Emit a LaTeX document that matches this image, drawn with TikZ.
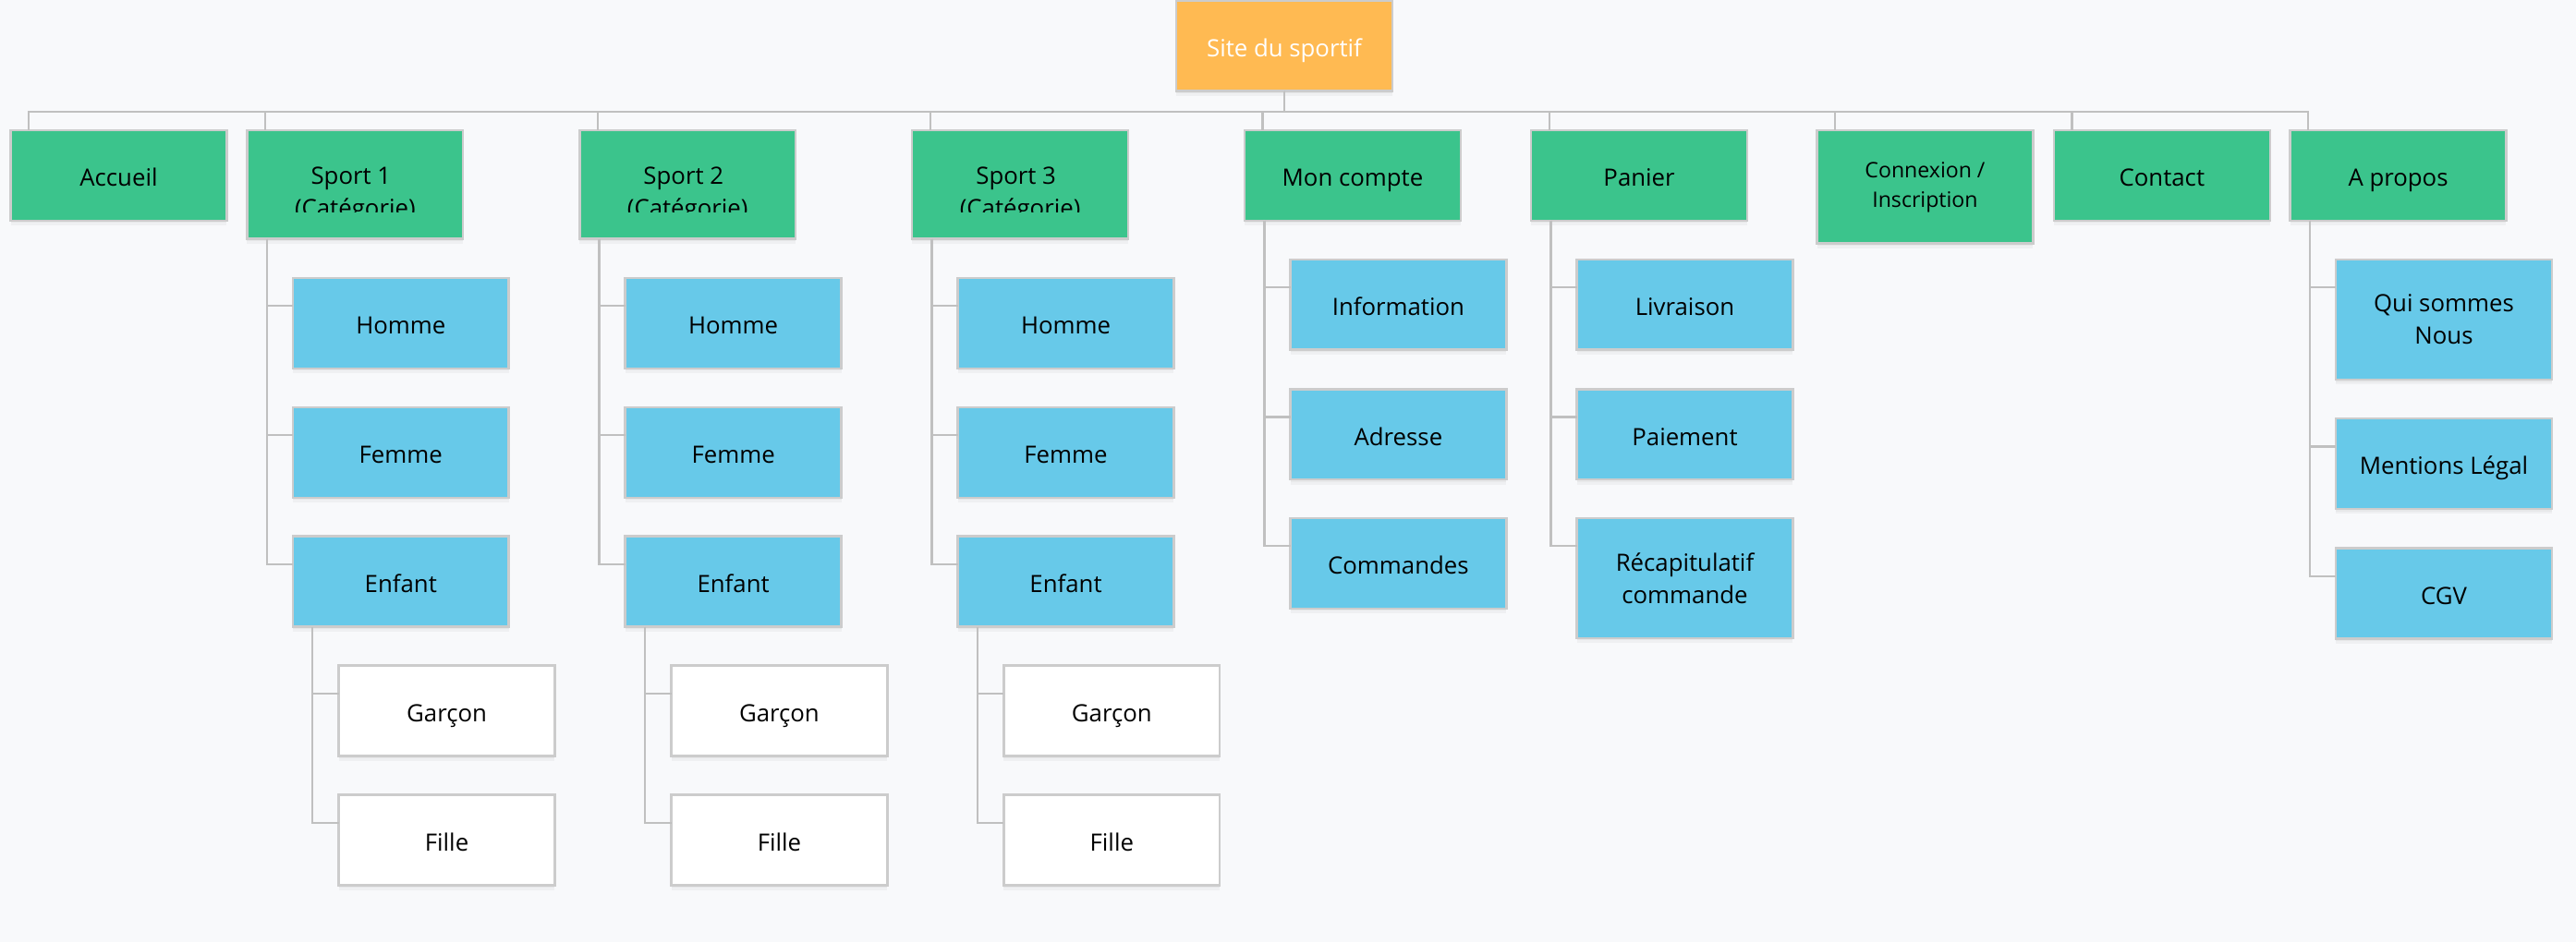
\documentclass[tikz,border=0pt]{standalone}
\usepackage{fontspec}
\setmainfont{Open Sans}
\usetikzlibrary{calc,shadows}

\definecolor{bgcol}{RGB}{248,249,251}
\definecolor{rootcol}{RGB}{255,186,82}
\definecolor{catcol}{RGB}{59,196,140}
\definecolor{subcol}{RGB}{103,201,233}
\definecolor{edgecol}{RGB}{204,204,204}
\definecolor{linkcol}{RGB}{192,192,192}

\begin{document}
\begin{tikzpicture}[x=1pt,y=1pt,yscale=-1,xscale=1,
    box/.style={rectangle, draw=edgecol, line width=1.4pt, outer sep=0pt, inner sep=2pt, anchor=north west,
        minimum width=131.5pt, minimum height=55pt, align=center, font=\fontsize{14.5}{19.7}\selectfont,
        text height=13.2pt, text depth=0pt,
        drop shadow={shadow xshift=0pt, shadow yshift=-3pt, opacity=0.07},
        drop shadow={shadow xshift=0pt, shadow yshift=-1.5pt, opacity=0.07}},
    twoline/.style={text height={}, text depth={}},
    rootbox/.style={box, fill=rootcol, text=white},
    catbox/.style={box, fill=catcol},
    subbox/.style={box, fill=subcol},
    leafbox/.style={box, fill=white},
    cattext/.style={anchor=base, inner sep=0pt, font=\fontsize{14.5}{19.7}\selectfont},
    link/.style={draw=linkcol, line width=1.3pt}]
        \useasboundingbox (0,0) rectangle (1568,573.7);
        \fill [bgcol] (0,0) rectangle (1568,573.7);
        \coordinate (bus) at (0,67.9);
        % Text Node
        \draw (716,0.7) node [rootbox, minimum height=54.8pt] (root) {Site du sportif};
        % Text Node
        \draw (6.5,79.3) node [catbox] (accueil) {Accueil};
        % Text Node
        \draw (150.4,79.3) node [catbox, minimum height=66.2pt] (sport1) {};
        % Text Node
        \draw (352.8,79.3) node [catbox, minimum height=66.2pt] (sport2) {};
        % Text Node
        \draw (555.2,79.3) node [catbox, minimum height=66.2pt] (sport3) {};
        % Text Node
        \draw (757.6,79.3) node [catbox] (compte) {Mon compte};
        % Text Node
        \draw (932,79.3) node [catbox] (panier) {Panier};
        % Text Node
        \draw (1106,79.3) node [catbox, twoline, minimum height=69pt, font=\fontsize{13}{18}\selectfont] (connexion) {Connexion /\\Inscription};
        % Text Node
        \draw (1250.2,79.3) node [catbox] (contact) {Contact};
        % Text Node
        \draw (1394,79.3) node [catbox] (apropos) {A propos};
        % Text Node
        \begin{scope}
            \clip (sport1.north west) rectangle ($(sport1.north east)+(0,49.7)$);
            \draw ($(sport1.north)+(-2.5,32.7)$) node [cattext] (sport1a) {Sport 1};
            \draw ($(sport1.north)+(0,52.7)$) node [cattext] (sport1b) {(Catégorie)};
        \end{scope}
        % Text Node
        \begin{scope}
            \clip (sport2.north west) rectangle ($(sport2.north east)+(0,49.7)$);
            \draw ($(sport2.north)+(-2.5,32.7)$) node [cattext] (sport2a) {Sport 2};
            \draw ($(sport2.north)+(0,52.7)$) node [cattext] (sport2b) {(Catégorie)};
        \end{scope}
        % Text Node
        \begin{scope}
            \clip (sport3.north west) rectangle ($(sport3.north east)+(0,49.7)$);
            \draw ($(sport3.north)+(-2.5,32.7)$) node [cattext] (sport3a) {Sport 3};
            \draw ($(sport3.north)+(0,52.7)$) node [cattext] (sport3b) {(Catégorie)};
        \end{scope}
        % Text Node
        \draw (178.2,169.3) node [subbox] (homme1) {Homme};
        % Text Node
        \draw (178.2,248) node [subbox] (femme1) {Femme};
        % Text Node
        \draw (178.2,326.6) node [subbox] (enfant1) {Enfant};
        % Text Node
        \draw (206.2,405.3) node [leafbox] (garcon1) {Garçon};
        % Text Node
        \draw (206.2,484) node [leafbox] (fille1) {Fille};
        % Text Node
        \draw (380.6,169.3) node [subbox] (homme2) {Homme};
        % Text Node
        \draw (380.6,248) node [subbox] (femme2) {Femme};
        % Text Node
        \draw (380.6,326.6) node [subbox] (enfant2) {Enfant};
        % Text Node
        \draw (408.6,405.3) node [leafbox] (garcon2) {Garçon};
        % Text Node
        \draw (408.6,484) node [leafbox] (fille2) {Fille};
        % Text Node
        \draw (583,169.3) node [subbox] (homme3) {Homme};
        % Text Node
        \draw (583,248) node [subbox] (femme3) {Femme};
        % Text Node
        \draw (583,326.6) node [subbox] (enfant3) {Enfant};
        % Text Node
        \draw (611,405.3) node [leafbox] (garcon3) {Garçon};
        % Text Node
        \draw (611,484) node [leafbox] (fille3) {Fille};
        % Text Node
        \draw (785.4,158) node [subbox] (info) {Information};
        % Text Node
        \draw (785.4,237) node [subbox] (adresse) {Adresse};
        % Text Node
        \draw (785.4,315.5) node [subbox] (commandes) {Commandes};
        % Text Node
        \draw (959.8,158) node [subbox] (livraison) {Livraison};
        % Text Node
        \draw (959.8,237) node [subbox] (paiement) {Paiement};
        % Text Node
        \draw (959.8,315.5) node [subbox, twoline, minimum height=73pt] (recap) {Récapitulatif\\commande};
        % Text Node
        \draw (1421.8,158) node [subbox, twoline, minimum height=73.2pt] (qui) {Qui sommes\\Nous};
        % Text Node
        \draw (1421.8,254.9) node [subbox] (mentions) {Mentions Légal};
        % Text Node
        \draw (1421.8,333.8) node [subbox] (cgv) {CGV};
        % Connection
        \draw [link] (root.south) -- (root.south |- bus) -| ([xshift=11]accueil.north west);
        % Connection
        \draw [link] (root.south) -- (root.south |- bus) -| ([xshift=11]sport1.north west);
        % Connection
        \draw [link] (root.south) -- (root.south |- bus) -| ([xshift=11]sport2.north west);
        % Connection
        \draw [link] (root.south) -- (root.south |- bus) -| ([xshift=11]sport3.north west);
        % Connection
        \draw [link] (root.south) -- (root.south |- bus) -| ([xshift=11]compte.north west);
        % Connection
        \draw [link] (root.south) -- (root.south |- bus) -| ([xshift=11]panier.north west);
        % Connection
        \draw [link] (root.south) -- (root.south |- bus) -| ([xshift=11]connexion.north west);
        % Connection
        \draw [link] (root.south) -- (root.south |- bus) -| ([xshift=11]contact.north west);
        % Connection
        \draw [link] (root.south) -- (root.south |- bus) -| ([xshift=11]apropos.north west);
        % Connection
        \draw [link] ([xshift=12]sport1.south west) |- ($(homme1.north west)+(0,17)$);
        % Connection
        \draw [link] ([xshift=12]sport1.south west) |- ($(femme1.north west)+(0,17)$);
        % Connection
        \draw [link] ([xshift=12]sport1.south west) |- ($(enfant1.north west)+(0,17)$);
        % Connection
        \draw [link] ([xshift=12]enfant1.south west) |- ($(garcon1.north west)+(0,17)$);
        % Connection
        \draw [link] ([xshift=12]enfant1.south west) |- ($(fille1.north west)+(0,17)$);
        % Connection
        \draw [link] ([xshift=12]sport2.south west) |- ($(homme2.north west)+(0,17)$);
        % Connection
        \draw [link] ([xshift=12]sport2.south west) |- ($(femme2.north west)+(0,17)$);
        % Connection
        \draw [link] ([xshift=12]sport2.south west) |- ($(enfant2.north west)+(0,17)$);
        % Connection
        \draw [link] ([xshift=12]enfant2.south west) |- ($(garcon2.north west)+(0,17)$);
        % Connection
        \draw [link] ([xshift=12]enfant2.south west) |- ($(fille2.north west)+(0,17)$);
        % Connection
        \draw [link] ([xshift=12]sport3.south west) |- ($(homme3.north west)+(0,17)$);
        % Connection
        \draw [link] ([xshift=12]sport3.south west) |- ($(femme3.north west)+(0,17)$);
        % Connection
        \draw [link] ([xshift=12]sport3.south west) |- ($(enfant3.north west)+(0,17)$);
        % Connection
        \draw [link] ([xshift=12]enfant3.south west) |- ($(garcon3.north west)+(0,17)$);
        % Connection
        \draw [link] ([xshift=12]enfant3.south west) |- ($(fille3.north west)+(0,17)$);
        % Connection
        \draw [link] ([xshift=12]compte.south west) |- ($(info.north west)+(0,17)$);
        % Connection
        \draw [link] ([xshift=12]compte.south west) |- ($(adresse.north west)+(0,17)$);
        % Connection
        \draw [link] ([xshift=12]compte.south west) |- ($(commandes.north west)+(0,17)$);
        % Connection
        \draw [link] ([xshift=12]panier.south west) |- ($(livraison.north west)+(0,17)$);
        % Connection
        \draw [link] ([xshift=12]panier.south west) |- ($(paiement.north west)+(0,17)$);
        % Connection
        \draw [link] ([xshift=12]panier.south west) |- ($(recap.north west)+(0,17)$);
        % Connection
        \draw [link] ([xshift=12]apropos.south west) |- ($(qui.north west)+(0,17)$);
        % Connection
        \draw [link] ([xshift=12]apropos.south west) |- ($(mentions.north west)+(0,17)$);
        % Connection
        \draw [link] ([xshift=12]apropos.south west) |- ($(cgv.north west)+(0,17)$);
\end{tikzpicture}
\end{document}
